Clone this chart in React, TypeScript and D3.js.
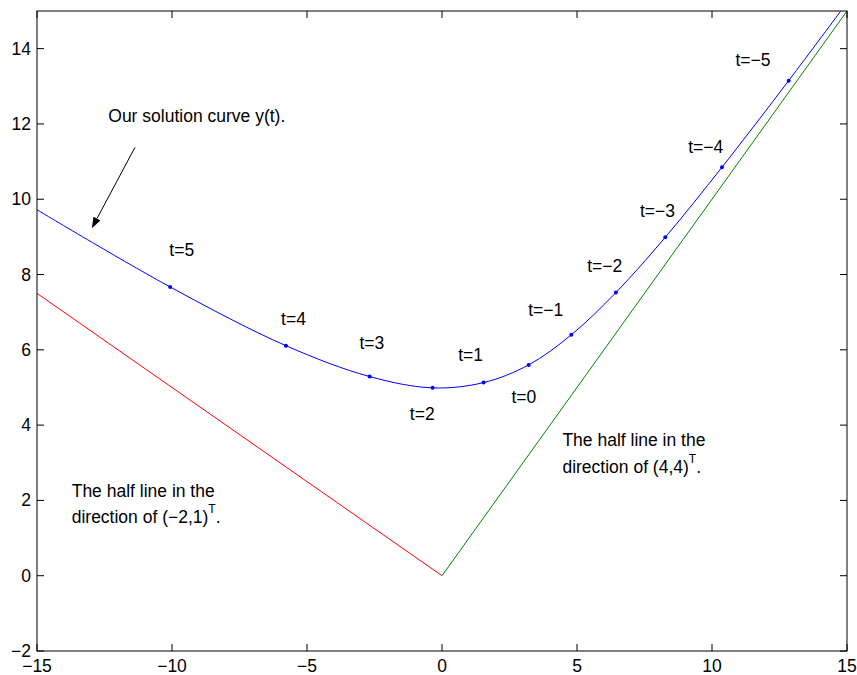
import React from "react";
import * as d3 from "d3";

// solution curve y(t) (x1, x2 pairs)
const curveX = [-15, -10.07, -5.78, -2.68, -0.35, 1.54, 3.21, 4.79, 6.44, 8.27, 10.37, 12.84, 14.77];
const curveY = [9.72, 7.67, 6.11, 5.29, 4.99, 5.13, 5.6, 6.4, 7.52, 8.99, 10.85, 13.15, 15];

// marked points t = 5 ... -5 (indices into the curve arrays)
const tValues = [5, 4, 3, 2, 1, 0, -1, -2, -3, -4, -5];
const tIndex = [1, 2, 3, 4, 5, 6, 7, 8, 9, 10, 11];
// label anchors (left, baseline) in data units
const tLabelX = [-10.1, -5.96, -3.06, -1.19, 0.6, 2.57, 3.19, 5.38, 7.33, 9.12, 10.87];
const tLabelY = [8.48, 6.65, 6.03, 4.14, 5.69, 4.6, 6.91, 8.08, 9.53, 11.22, 13.53];

// half lines from the origin
const redLineX = [0, -15];
const redLineY = [0, 7.5];
const greenLineX = [0, 15];
const greenLineY = [0, 15];

const xTicks = [-15, -10, -5, 0, 5, 10, 15];
const yTicks = [-2, 0, 2, 4, 6, 8, 10, 12, 14];

const W = 857;
const H = 675;
const m = { left: 37, right: 10, top: 11, bottom: 24 };
const FONT = "'Liberation Sans', Arial, Helvetica, sans-serif";
const FS = 17.5;

export default function App() {
  const x = d3.scaleLinear().domain([-15, 15]).range([m.left, W - m.right]);
  const y = d3.scaleLinear().domain([-2, 15]).range([H - m.bottom, m.top]);

  const line = d3
    .line<number>()
    .x((i) => x(curveX[i]))
    .y((i) => y(curveY[i]))
    .curve(d3.curveCatmullRom.alpha(0.5));
  const straight = (xs: number[], ys: number[]) =>
    d3.line<number>().x((i) => x(xs[i])).y((i) => y(ys[i]))(xs.map((_, i) => i)) || "";

  const fmt = d3.format("d");
  const x0 = x.range()[0], x1 = x.range()[1];
  const y0 = y.range()[0], y1 = y.range()[1];
  const tick = 7;

  // arrow from the label to the curve
  const ax1 = x(-11.37), ay1 = y(11.38);
  const ax2 = x(-12.97), ay2 = y(9.23);
  const ang = Math.atan2(ay2 - ay1, ax2 - ax1);
  const hl = 11, hw = 4;
  const bx = ax2 - hl * Math.cos(ang), by = ay2 - hl * Math.sin(ang);
  const head = [
    [ax2, ay2],
    [bx + hw * Math.sin(ang), by - hw * Math.cos(ang)],
    [bx - hw * Math.sin(ang), by + hw * Math.cos(ang)],
  ]
    .map((p) => p.join(","))
    .join(" ");

  return (
    <svg
      width={W}
      height={H}
      style={{ position: "absolute", left: 0, top: 0, background: "#fff" }}
      fontFamily={FONT}
      fontSize={FS}
    >
      <defs>
        <clipPath id="plot">
          <rect x={x0} y={y1} width={x1 - x0} height={y0 - y1} />
        </clipPath>
      </defs>

      <g clipPath="url(#plot)" fill="none" strokeWidth={1}>
        <path d={straight(redLineX, redLineY)} stroke="#ff0000" />
        <path d={straight(greenLineX, greenLineY)} stroke="#008000" />
        <path d={line(curveX.map((_, i) => i)) || ""} stroke="#0000ff" />
      </g>

      {tIndex.map((idx, k) => (
        <circle key={"m" + k} cx={x(curveX[idx])} cy={y(curveY[idx])} r={2} fill="#0000ff" />
      ))}
      {tValues.map((t, k) => (
        <text key={"t" + k} x={x(tLabelX[k])} y={y(tLabelY[k])}>
          {"t=" + fmt(t)}
        </text>
      ))}

      {/* axes box and ticks */}
      <rect x={x0} y={y1} width={x1 - x0} height={y0 - y1} fill="none" stroke="#000" strokeWidth={1} />
      {xTicks.map((v) => (
        <g key={"xt" + v} stroke="#000">
          <line x1={x(v)} x2={x(v)} y1={y0} y2={y0 - tick} />
          <line x1={x(v)} x2={x(v)} y1={y1} y2={y1 + tick} />
        </g>
      ))}
      {yTicks.map((v) => (
        <g key={"yt" + v} stroke="#000">
          <line x1={x0} x2={x0 + tick} y1={y(v)} y2={y(v)} />
          <line x1={x1} x2={x1 - tick} y1={y(v)} y2={y(v)} />
        </g>
      ))}
      {xTicks.map((v) => (
        <text key={"xl" + v} x={x(v)} y={y0 + 21} textAnchor="middle">
          {fmt(v)}
        </text>
      ))}
      {yTicks.map((v) => (
        <text key={"yl" + v} x={x0 - 6} y={y(v) + 6} textAnchor="end">
          {fmt(v)}
        </text>
      ))}

      {/* annotations */}
      <text x={x(-12.36)} y={y(12.04)}>Our solution curve y(t).</text>
      <line x1={ax1} y1={ay1} x2={bx} y2={by} stroke="#000" strokeWidth={1} />
      <polygon points={head} fill="#000" />

      <text x={x(-13.715)} y={y(2.1)}>The half line in the</text>
      <text x={x(-13.715)} y={y(1.41)}>
        direction of (−2,1)
        <tspan fontSize={12} dy={-10}>T</tspan>
        <tspan dy={10}>.</tspan>
      </text>

      <text x={x(4.46)} y={y(3.44)}>The half line in the</text>
      <text x={x(4.46)} y={y(2.74)}>
        direction of (4,4)
        <tspan fontSize={12} dy={-10}>T</tspan>
        <tspan dy={10}>.</tspan>
      </text>
    </svg>
  );
}
